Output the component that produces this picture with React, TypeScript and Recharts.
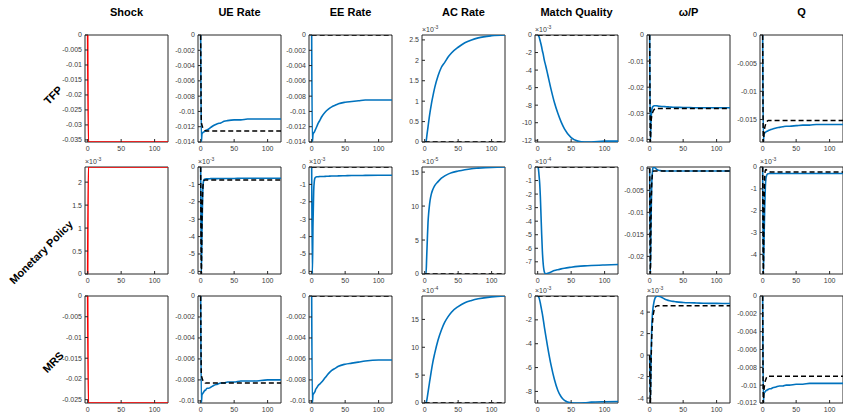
import React from 'react';
import { LineChart, Line, XAxis, YAxis, ReferenceArea } from 'recharts';

// time grid (quarters after the shock)
const periods = [0, 1, 2, 3, 4, 5, 6, 7, 8, 10, 12, 15, 20, 25, 30, 35, 40, 50, 60, 70, 80, 100, 120];

const columns = ['Shock', 'UE Rate', 'EE Rate', 'AC Rate', 'Match Quality', 'ω/P', 'Q'];
const rowNames = ['TFP', 'Monetary Policy', 'MRS'];

const zeros = [0, 0, 0, 0, 0, 0, 0, 0, 0, 0, 0, 0, 0, 0, 0, 0, 0, 0, 0, 0, 0, 0, 0];

// TFP
const tfpShock = [0, -0.0357, -0.0357, -0.0357, -0.0357, -0.0357, -0.0357, -0.0357, -0.0357, -0.0357, -0.0357, -0.0357, -0.0357, -0.0357, -0.0357, -0.0357, -0.0357, -0.0357, -0.0357, -0.0357, -0.0357, -0.0357, -0.0357];
const tfpUeA = [0, -0.014, -0.0129, -0.0128, -0.0127, -0.0127, -0.0126, -0.0126, -0.0125, -0.0124, -0.0123, -0.0121, -0.0118, -0.0116, -0.0115, -0.0113, -0.0112, -0.0111, -0.0111, -0.011, -0.011, -0.011, -0.011];
const tfpUeB = [0, -0.0114, -0.0118, -0.0121, -0.0123, -0.0124, -0.0125, -0.0125, -0.01255, -0.01255, -0.01255, -0.01255, -0.01255, -0.01255, -0.01255, -0.01255, -0.01255, -0.01255, -0.01255, -0.01255, -0.01255, -0.01255, -0.01255];
const tfpEeA = [0, -0.014, -0.013, -0.0128, -0.0127, -0.0125, -0.0123, -0.0121, -0.0119, -0.0115, -0.0112, -0.0107, -0.0101, -0.0097, -0.0094, -0.0092, -0.009, -0.0088, -0.0087, -0.0086, -0.0085, -0.0085, -0.0085];
const tfpAcA = [0, 0, 0, 0.12, 0.25, 0.37, 0.5, 0.62, 0.73, 0.93, 1.1, 1.33, 1.62, 1.83, 1.95, 2.08, 2.18, 2.32, 2.43, 2.5, 2.55, 2.6, 2.62];
const tfpMqA = [0, -0.05, -0.2, -0.45, -0.75, -1.05, -1.4, -1.8, -2.1, -2.9, -3.5, -4.5, -6.2, -7.7, -8.9, -9.9, -10.7, -11.7, -12.1, -12.2, -12.2, -12.1, -12.1];
const tfpWpA = [0, -0.041, -0.033, -0.029, -0.0278, -0.0274, -0.0272, -0.0271, -0.0271, -0.0271, -0.0272, -0.0273, -0.0274, -0.0275, -0.0276, -0.0277, -0.0277, -0.0278, -0.0278, -0.0279, -0.0279, -0.0279, -0.0279];
const tfpWpB = [0, -0.041, -0.034, -0.031, -0.03, -0.0293, -0.0288, -0.0285, -0.0283, -0.0282, -0.0282, -0.0282, -0.0282, -0.0282, -0.0282, -0.0282, -0.0282, -0.0282, -0.0282, -0.0282, -0.0282, -0.0282, -0.0282];
const tfpQA = [0, -0.019, -0.0176, -0.0174, -0.0173, -0.0172, -0.0171, -0.0171, -0.017, -0.0169, -0.0168, -0.0167, -0.0165, -0.0164, -0.0163, -0.0162, -0.0162, -0.0161, -0.016, -0.016, -0.0159, -0.0159, -0.0159];
const tfpQB = [0, -0.019, -0.0175, -0.0165, -0.016, -0.0156, -0.0154, -0.0153, -0.0152, -0.0152, -0.0152, -0.0152, -0.0152, -0.0152, -0.0152, -0.0152, -0.0152, -0.0152, -0.0152, -0.0152, -0.0152, -0.0152, -0.0152];

// Monetary policy
const mpShock = [0, 2.33, 2.33, 2.33, 2.33, 2.33, 2.33, 2.33, 2.33, 2.33, 2.33, 2.33, 2.33, 2.33, 2.33, 2.33, 2.33, 2.33, 2.33, 2.33, 2.33, 2.33, 2.33];
const mpUeA = [0, -6.15, -3.5, -1.6, -0.85, -0.72, -0.7, -0.69, -0.68, -0.68, -0.68, -0.67, -0.67, -0.67, -0.66, -0.66, -0.66, -0.66, -0.65, -0.65, -0.65, -0.65, -0.65];
const mpUeB = [0, -6.15, -3.0, -1.4, -0.9, -0.78, -0.75, -0.74, -0.74, -0.74, -0.74, -0.74, -0.74, -0.74, -0.74, -0.74, -0.74, -0.74, -0.74, -0.74, -0.74, -0.74, -0.74];
const mpEeA = [0, -6.15, -3.2, -1.4, -0.8, -0.62, -0.58, -0.57, -0.56, -0.56, -0.55, -0.55, -0.54, -0.53, -0.52, -0.52, -0.51, -0.5, -0.49, -0.49, -0.48, -0.47, -0.47];
const mpAcA = [0, 0, 0, 2.5, 5.2, 7.6, 9.0, 10.0, 10.8, 11.8, 12.4, 13.0, 13.6, 14.1, 14.45, 14.7, 14.9, 15.15, 15.35, 15.5, 15.58, 15.7, 15.75];
const mpMqA = [0, -0.1, -0.6, -1.2, -2.2, -3.6, -5.0, -6.2, -7.0, -7.75, -7.9, -7.85, -7.75, -7.65, -7.58, -7.52, -7.47, -7.4, -7.34, -7.3, -7.27, -7.23, -7.2];
const mpWpA = [0, -0.024, -0.012, -0.004, -0.001, 0.0001, 0.0003, 0.0002, 0.0001, -0.0002, -0.0004, -0.0005, -0.0006, -0.0006, -0.0006, -0.0006, -0.0006, -0.0006, -0.0006, -0.0006, -0.0006, -0.0006, -0.0006];
const mpWpB = [0, -0.024, -0.011, -0.004, -0.0015, -0.0008, -0.0006, -0.0006, -0.0006, -0.0006, -0.0006, -0.0006, -0.0006, -0.0006, -0.0006, -0.0006, -0.0006, -0.0006, -0.0006, -0.0006, -0.0006, -0.0006, -0.0006];
const mpQA = [0, -4.9, -3.4, -1.9, -0.9, -0.5, -0.38, -0.33, -0.31, -0.3, -0.3, -0.3, -0.3, -0.3, -0.3, -0.3, -0.3, -0.3, -0.3, -0.3, -0.3, -0.3, -0.3];
const mpQB = [0, -4.9, -2.0, -0.5, -0.15, -0.12, -0.15, -0.18, -0.2, -0.22, -0.23, -0.23, -0.23, -0.23, -0.23, -0.23, -0.23, -0.23, -0.23, -0.23, -0.23, -0.23, -0.23];

// MRS
const mrsShock = [0, -0.0258, -0.0258, -0.0258, -0.0258, -0.0258, -0.0258, -0.0258, -0.0258, -0.0258, -0.0258, -0.0258, -0.0258, -0.0258, -0.0258, -0.0258, -0.0258, -0.0258, -0.0258, -0.0258, -0.0258, -0.0258, -0.0258];
const mrsUeA = [0, -0.0102, -0.0094, -0.0093, -0.0092, -0.0091, -0.009, -0.009, -0.0089, -0.0088, -0.0088, -0.0087, -0.0085, -0.0084, -0.0083, -0.0083, -0.0082, -0.0082, -0.0081, -0.0081, -0.0081, -0.008, -0.008];
const mrsUeB = [0, -0.0075, -0.0078, -0.008, -0.0081, -0.0082, -0.0082, -0.0083, -0.0083, -0.0083, -0.0083, -0.0083, -0.0083, -0.0083, -0.0083, -0.0083, -0.0083, -0.0083, -0.0083, -0.0083, -0.0083, -0.0083, -0.0083];
const mrsEeA = [0, -0.0102, -0.0094, -0.0093, -0.0092, -0.0091, -0.0089, -0.0088, -0.0087, -0.0085, -0.0084, -0.0082, -0.0078, -0.0074, -0.0071, -0.0069, -0.0067, -0.0065, -0.0064, -0.0063, -0.0062, -0.0061, -0.0061];
const mrsAcA = [0, 0, 0, 0.4, 1.1, 1.9, 2.7, 3.5, 4.3, 5.8, 7.2, 8.9, 11.3, 13.1, 14.5, 15.5, 16.3, 17.3, 18.0, 18.4, 18.7, 19.05, 19.2];
const mrsMqA = [0, -0.05, -0.15, -0.35, -0.6, -0.9, -1.2, -1.5, -1.85, -2.6, -3.3, -4.3, -5.8, -7.0, -7.9, -8.45, -8.75, -8.95, -8.97, -8.95, -8.9, -8.86, -8.84];
const mrsWpA = [0, -4.46, -0.5, 2.4, 3.7, 4.4, 4.8, 5.1, 5.3, 5.45, 5.5, 5.45, 5.3, 5.15, 5.05, 5.0, 4.95, 4.9, 4.87, 4.85, 4.83, 4.81, 4.8];
const mrsWpB = [0, -4.46, -1.0, 1.5, 2.8, 3.6, 4.0, 4.3, 4.45, 4.55, 4.6, 4.6, 4.6, 4.6, 4.6, 4.6, 4.6, 4.6, 4.6, 4.6, 4.6, 4.6, 4.6];
const mrsQA = [0, -0.012, -0.0109, -0.0108, -0.0107, -0.0106, -0.0106, -0.0105, -0.0105, -0.0104, -0.0104, -0.0103, -0.0102, -0.0101, -0.0101, -0.01, -0.01, -0.0099, -0.0099, -0.0098, -0.0098, -0.0098, -0.0098];
const mrsQB = [0, -0.012, -0.0105, -0.0099, -0.0095, -0.0093, -0.0091, -0.009, -0.009, -0.009, -0.009, -0.009, -0.009, -0.009, -0.009, -0.009, -0.009, -0.009, -0.009, -0.009, -0.009, -0.009, -0.009];

// y tick labels
const tShock1 = [-0.035, -0.03, -0.025, -0.02, -0.015, -0.01, -0.005, 0];
const tRate1 = [-0.014, -0.012, -0.01, -0.008, -0.006, -0.004, -0.002, 0];
const tAc1 = [0, 0.5, 1, 1.5, 2, 2.5];
const tMq1 = [-12, -10, -8, -6, -4, -2, 0];
const tWp1 = [-0.04, -0.03, -0.02, -0.01, 0];
const tQ1 = [-0.015, -0.01, -0.005, 0];
const tShock2 = [0, 0.5, 1, 1.5, 2];
const tRate2 = [-6, -5, -4, -3, -2, -1, 0];
const tAc2 = [0, 5, 10, 15];
const tMq2 = [-7, -6, -5, -4, -3, -2, -1, 0];
const tWp2 = [-0.02, -0.015, -0.01, -0.005, 0];
const tQ2 = [-4, -3, -2, -1, 0];
const tShock3 = [-0.025, -0.02, -0.015, -0.01, -0.005, 0];
const tRate3 = [-0.01, -0.008, -0.006, -0.004, -0.002, 0];
const tAc3 = [0, 5, 10, 15];
const tMq3 = [-8, -6, -4, -2, 0];
const tWp3 = [-4, -2, 0, 2, 4];
const tQ3 = [-0.012, -0.01, -0.008, -0.006, -0.004, -0.002, 0];
const xTicks = [0, 50, 100];

type Spec = { a: number[]; b?: number[]; red?: boolean; ticks: number[]; exp?: string };

const grid: Spec[][] = [
  [
    { a: tfpShock, red: true, ticks: tShock1 },
    { a: tfpUeA, b: tfpUeB, ticks: tRate1 },
    { a: tfpEeA, b: zeros, ticks: tRate1 },
    { a: tfpAcA, b: zeros, ticks: tAc1, exp: '-3' },
    { a: tfpMqA, b: zeros, ticks: tMq1, exp: '-3' },
    { a: tfpWpA, b: tfpWpB, ticks: tWp1 },
    { a: tfpQA, b: tfpQB, ticks: tQ1 },
  ],
  [
    { a: mpShock, red: true, ticks: tShock2, exp: '-3' },
    { a: mpUeA, b: mpUeB, ticks: tRate2, exp: '-3' },
    { a: mpEeA, b: zeros, ticks: tRate2, exp: '-3' },
    { a: mpAcA, b: zeros, ticks: tAc2, exp: '-5' },
    { a: mpMqA, b: zeros, ticks: tMq2, exp: '-4' },
    { a: mpWpA, b: mpWpB, ticks: tWp2 },
    { a: mpQA, b: mpQB, ticks: tQ2, exp: '-3' },
  ],
  [
    { a: mrsShock, red: true, ticks: tShock3 },
    { a: mrsUeA, b: mrsUeB, ticks: tRate3 },
    { a: mrsEeA, b: zeros, ticks: tRate3 },
    { a: mrsAcA, b: zeros, ticks: tAc3, exp: '-4' },
    { a: mrsMqA, b: zeros, ticks: tMq3, exp: '-3' },
    { a: mrsWpA, b: mrsWpB, ticks: tWp3, exp: '-3' },
    { a: mrsQA, b: mrsQB, ticks: tQ3 },
  ],
];

const colLeft = [85, 198, 309, 422, 535, 647, 760];
const rowTop = [35, 167, 296];
const rowLabelPos = [[53, 95], [41, 252], [53, 362]];
const PW = 83;
const PH = 107;
const YW = 34;
const XH = 14;
const MT = 6;
const X0 = -4;
const X1 = 120;
const AX = '#262626';
const tickFont = { fontSize: 7, fill: '#3a3a3a', fontFamily: 'Liberation Sans, Arial, sans-serif' };

const fmt = (v: number) => String(parseFloat(v.toPrecision(6)));

function Panel({ spec, left, top }: { spec: Spec; left: number; top: number }) {
  const data = periods.map((t, i) => ({ t, a: spec.a[i], b: spec.b ? spec.b[i] : undefined }));
  const all = spec.b ? spec.a.concat(spec.b) : spec.a;
  const lo = Math.min(...all);
  const hi = Math.max(...all);
  return (
    <div style={{ position: 'absolute', left: left - YW, top: top - MT }}>
      <LineChart width={YW + PW + 4} height={PH + XH + MT} data={data} margin={{ top: MT, right: 4, bottom: 0, left: 0 }}>
        <XAxis dataKey="t" type="number" domain={[X0, X1]} ticks={xTicks} interval={0} axisLine={false}
          tick={tickFont} tickSize={-3} tickMargin={7} height={XH} stroke={AX} allowDataOverflow />
        <YAxis type="number" domain={[lo, hi]} ticks={spec.ticks} interval={0} tickFormatter={fmt} axisLine={false}
          tick={tickFont} tickSize={-3} tickMargin={6} width={YW} stroke={AX} allowDataOverflow />
        <ReferenceArea x1={X0} x2={X1} y1={lo} y2={hi} fill="none" stroke={AX} strokeWidth={1} ifOverflow="visible" />
        <Line dataKey="a" type="monotone" stroke={spec.red ? '#ff0000' : '#0072bd'}
          strokeWidth={1.6} dot={false} isAnimationActive={false} />
        {spec.b && (
          <Line dataKey="b" type="monotone" stroke="#000000" strokeWidth={1.5}
            strokeDasharray="5 3" dot={false} isAnimationActive={false} />
        )}
      </LineChart>
    </div>
  );
}

export default function App() {
  return (
    <div style={{ position: 'absolute', left: 0, top: 0, width: 843, height: 414, background: '#fff',
      overflow: 'hidden', fontFamily: 'Liberation Sans, Arial, sans-serif' }}>
      {columns.map((c, j) => (
        <div key={c} style={{ position: 'absolute', left: colLeft[j] + PW / 2, top: 12, transform: 'translate(-50%, -50%)',
          fontSize: 11, fontWeight: 'bold', color: '#000', whiteSpace: 'nowrap' }}>{c}</div>
      ))}
      {rowNames.map((r, i) => (
        <div key={r} style={{ position: 'absolute', left: rowLabelPos[i][0], top: rowLabelPos[i][1],
          transform: 'translate(-50%, -50%) rotate(-45deg)', fontSize: 11, fontWeight: 'bold', color: '#000', whiteSpace: 'nowrap' }}>{r}</div>
      ))}
      {grid.map((row, i) => row.map((spec, j) => (
        <React.Fragment key={`${i}-${j}`}>
          <Panel spec={spec} left={colLeft[j]} top={rowTop[i]} />
          {spec.exp && (
            <div style={{ position: 'absolute', left: colLeft[j], top: rowTop[i] - 9, fontSize: 7, color: '#3a3a3a',
              whiteSpace: 'nowrap', lineHeight: '8px' }}>
              ×10<span style={{ fontSize: 5, position: 'relative', top: -3 }}>{spec.exp}</span>
            </div>
          )}
        </React.Fragment>
      )))}
    </div>
  );
}
